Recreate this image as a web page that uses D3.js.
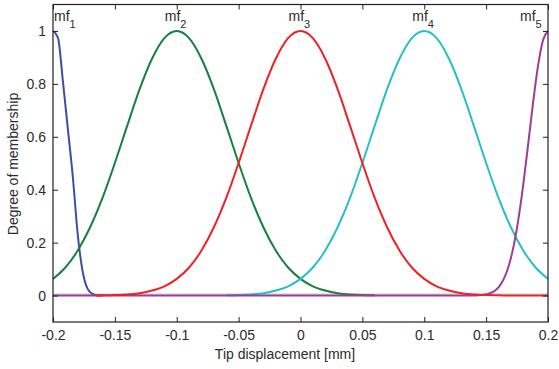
<!DOCTYPE html>
<html>
<head>
<meta charset="utf-8">
<script src="https://cdn.jsdelivr.net/npm/d3@7"></script>
<style>
  html, body { margin: 0; padding: 0; background: #fff; }
  svg { display: block; font-family: Arial, "Liberation Sans", Helvetica, sans-serif; }
</style>
</head>
<body>
<svg id="chart" width="559" height="369"></svg>
<script>
// ticks
const xTicks = [-0.2, -0.15, -0.1, -0.05, 0, 0.05, 0.1, 0.15, 0.2];
const xTickLabels = ['-0.2', '-0.15', '-0.1', '-0.05', '0', '0.05', '0.1', '0.15', '0.2'];
const yTicks = [0, 0.2, 0.4, 0.6, 0.8, 1];
const yTickLabels = ['0', '0.2', '0.4', '0.6', '0.8', '1'];

// membership functions
const mfNames = ['1', '2', '3', '4', '5'];
const mfCenters = [-0.2, -0.1, 0, 0.1, 0.2];

const mf1X = [-0.2, -0.196, -0.192, -0.188, -0.184, -0.18, -0.176, -0.172, -0.168, -0.164, -0.16];
const mf1Y = [1, 0.975, 0.81, 0.63, 0.45, 0.23, 0.09, 0.025, 0.006, 0, 0];

const mf2X = [-0.2, -0.19, -0.18, -0.17, -0.16, -0.15, -0.14, -0.13, -0.12, -0.11, -0.1,
  -0.09, -0.08, -0.07, -0.06, -0.05, -0.04, -0.03, -0.02, -0.01, 0, 0.01, 0.02, 0.03, 0.04, 0.05, 0.06];
const mf2Y = [0.063, 0.106, 0.17, 0.258, 0.369, 0.501, 0.642, 0.78, 0.895, 0.973, 1,
  0.973, 0.895, 0.78, 0.642, 0.501, 0.369, 0.258, 0.17, 0.106, 0.063, 0.035, 0.019, 0.009, 0.004, 0.002, 0.001];

const mf3X = [-0.165, -0.16, -0.15, -0.14, -0.13, -0.12, -0.11, -0.1, -0.09, -0.08, -0.07, -0.06, -0.05,
  -0.04, -0.03, -0.02, -0.01, 0, 0.01, 0.02, 0.03, 0.04, 0.05, 0.06, 0.07, 0.08, 0.09, 0.1,
  0.11, 0.12, 0.13, 0.14, 0.15, 0.16, 0.17, 0.18, 0.19, 0.2];
const mf3Y = [0, 0.001, 0.002, 0.004, 0.009, 0.019, 0.035, 0.063, 0.106, 0.17, 0.258, 0.369, 0.501,
  0.642, 0.78, 0.895, 0.973, 1, 0.973, 0.895, 0.78, 0.642, 0.501, 0.369, 0.258, 0.17, 0.106, 0.063,
  0.035, 0.019, 0.009, 0.004, 0.002, 0.001, 0, 0, 0, 0];

const mf4X = [-0.06, -0.05, -0.04, -0.03, -0.02, -0.01, 0, 0.01, 0.02, 0.03, 0.04, 0.05, 0.06, 0.07,
  0.08, 0.09, 0.1, 0.11, 0.12, 0.13, 0.14, 0.15, 0.16, 0.17, 0.18, 0.19, 0.2];
const mf4Y = [0.001, 0.002, 0.004, 0.009, 0.019, 0.035, 0.063, 0.106, 0.17, 0.258, 0.369, 0.501, 0.642, 0.78,
  0.895, 0.973, 1, 0.973, 0.895, 0.78, 0.642, 0.501, 0.369, 0.258, 0.17, 0.106, 0.063];

const mf5X = [-0.2, 0.14, 0.144, 0.148, 0.152, 0.156, 0.16, 0.164, 0.168, 0.172, 0.176, 0.18,
  0.184, 0.188, 0.192, 0.196, 0.2];
const mf5Y = [0, 0, 0.001, 0.003, 0.007, 0.015, 0.031, 0.06, 0.108, 0.182, 0.286, 0.419,
  0.573, 0.731, 0.87, 0.966, 1];

const series = [
  { name: 'mf1', xs: mf1X, ys: mf1Y, color: '#3b4fa6' },
  { name: 'mf2', xs: mf2X, ys: mf2Y, color: '#16803f' },
  { name: 'mf4', xs: mf4X, ys: mf4Y, color: '#27c0c2' },
  { name: 'mf5', xs: mf5X, ys: mf5Y, color: '#9c3c98' },
  { name: 'mf3', xs: mf3X, ys: mf3Y, color: '#ee2127' },
];

const W = 559, H = 369;
const plotL = 53, plotR = 548, plotT = 4.5, plotB = 322;
const ink = '#231f20';
const textInk = '#2b2b2b';
const fontSize = 14;

const svg = d3.select('#chart');
svg.append('rect').attr('width', W).attr('height', H).attr('fill', '#fff');

const x = d3.scaleLinear().domain([-0.2, 0.2]).range([plotL, plotR]);
const y = d3.scaleLinear().domain([-0.1, 1.1]).range([plotB, plotT]);

// faint zero line
svg.append('line')
  .attr('x1', plotL).attr('x2', plotR)
  .attr('y1', y(0) - 1.5).attr('y2', y(0) - 1.5)
  .attr('stroke', '#c4c4c4').attr('stroke-width', 1);

const line = d3.line()
  .x(d => x(d[0]))
  .y(d => y(d[1]))
  .curve(d3.curveMonotoneX);

const g = svg.append('g');
series.forEach(s => {
  const pts = s.xs.map((v, i) => [v, s.ys[i]]);
  g.append('path')
    .attr('class', `line-${s.name}`)
    .attr('d', line(pts))
    .attr('fill', 'none')
    .attr('stroke', s.color)
    .attr('stroke-width', 2)
    .attr('stroke-linejoin', 'round');
});

// axes, ticks pointing inward
function styleAxis(sel) {
  sel.select('.domain').remove();
  sel.selectAll('line').attr('stroke', ink).attr('stroke-width', 1);
  sel.selectAll('text')
    .attr('fill', textInk)
    .attr('font-size', fontSize)
    .attr('font-family', 'Arial, "Liberation Sans", Helvetica, sans-serif');
}

svg.append('g')
  .attr('transform', `translate(0,${plotB})`)
  .call(d3.axisBottom(x).tickValues(xTicks).tickFormat((d, i) => xTickLabels[i])
    .tickSizeInner(-5).tickSizeOuter(0).tickPadding(8))
  .call(styleAxis);

svg.append('g')
  .attr('transform', `translate(0,${plotT})`)
  .call(d3.axisTop(x).tickValues(xTicks).tickFormat('')
    .tickSizeInner(-5).tickSizeOuter(0))
  .call(styleAxis);

svg.append('g')
  .attr('transform', `translate(${plotL},0)`)
  .call(d3.axisLeft(y).tickValues(yTicks).tickFormat((d, i) => yTickLabels[i])
    .tickSizeInner(-5).tickSizeOuter(0).tickPadding(7))
  .call(styleAxis);

svg.append('g')
  .attr('transform', `translate(${plotR},0)`)
  .call(d3.axisRight(y).tickValues(yTicks).tickFormat('')
    .tickSizeInner(-5).tickSizeOuter(0))
  .call(styleAxis);

svg.append('rect')
  .attr('x', plotL).attr('y', plotT)
  .attr('width', plotR - plotL).attr('height', plotB - plotT)
  .attr('fill', 'none').attr('stroke', ink).attr('stroke-width', 1.2);

// mf labels
mfCenters.forEach((c, i) => {
  const tx = Math.min(Math.max(x(c) - 12, plotL + 1), plotR - 28);
  const t = svg.append('text')
    .attr('x', tx).attr('y', 21)
    .attr('fill', textInk)
    .attr('font-size', fontSize);
  t.append('tspan').text('mf');
  t.append('tspan').attr('font-size', 11).attr('dy', 7).text(mfNames[i]);
});

// axis titles
svg.append('text')
  .attr('x', 285).attr('y', 359)
  .attr('text-anchor', 'middle')
  .attr('fill', textInk)
  .attr('font-size', fontSize)
  .text('Tip displacement [mm]');

svg.append('text')
  .attr('transform', 'translate(18,164) rotate(-90)')
  .attr('text-anchor', 'middle')
  .attr('fill', textInk)
  .attr('font-size', fontSize)
  .text('Degree of membership');
</script>
</body>
</html>
